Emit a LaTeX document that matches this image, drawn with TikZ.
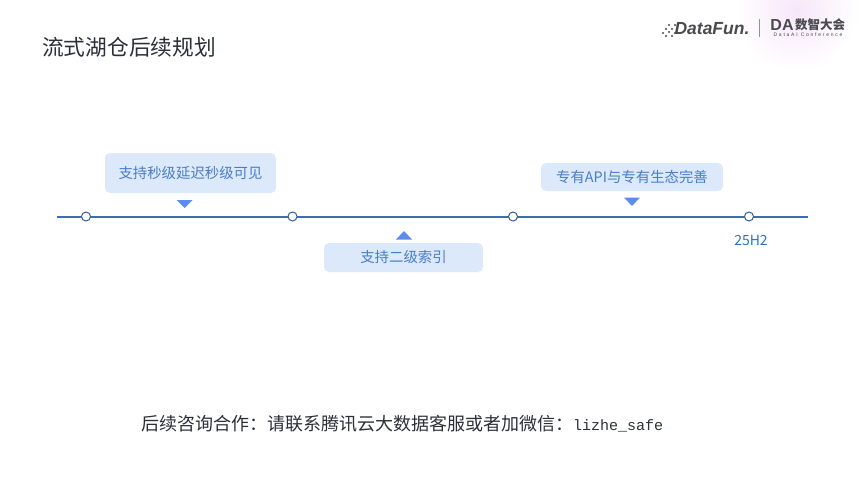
\documentclass[tikz,border=0pt]{standalone}
\usepackage{fontspec}
\usepackage{xcolor}
\setmainfont{Noto Sans CJK SC}
\setmonofont{Liberation Mono}
\setsansfont{Liberation Sans}
\definecolor{linecol}{HTML}{3F6DB0}
\definecolor{boxcol}{HTML}{DCE9FB}
\definecolor{tricol}{HTML}{5B8DEF}
\definecolor{txtcol}{HTML}{4A7DC4}
\definecolor{whencol}{HTML}{2F6FC0}
\definecolor{inkcol}{HTML}{2B2F36}
\definecolor{logocol}{HTML}{4A4A4F}
\definecolor{glowcol}{HTML}{F7E6FA}
\tikzset{
    tagbox/.style={fill=boxcol,rounded corners=5pt,inner sep=0pt,text=txtcol,font=\fontsize{14.4}{16}\selectfont},
    knot/.style={circle,draw=linecol!85!black,fill=white,line width=1pt,minimum size=9pt,inner sep=0pt},
}

\begin{document}
\begin{tikzpicture}[x=1pt,y=-1pt]
        \useasboundingbox (0,0) rectangle (865,487);

        % draw the glow behind the logo
        \begin{scope}
            \clip (700,0) rectangle (865,70);
            \shade[inner color=glowcol,outer color=white] (797,10) circle(62pt);
        \end{scope}

        % draw the logo
        \node[text=logocol,font=\sffamily\bfseries\itshape\fontsize{17.5}{17}\selectfont] (datafun) at (712,29) {DataFun.};
        \foreach \x/\y in {663/33,666/29,666/36,669/25,669/32,672/29,672/36,675/25,675/33} {
                \fill[logocol] (\x,\y) circle(1.2pt);
        }
        \coordinate (sepTop) at (759,19);
        \coordinate (sepBot) at (759,37);
        \draw[logocol!60] (sepTop) -- (sepBot);
        \node[text=logocol,font=\sffamily\bfseries\fontsize{16}{15}\selectfont] (da) at (782,24.5) {DA};
        \node[text=logocol,font=\bfseries\fontsize{12.5}{12}\selectfont] (dahui) at (820,25) {数智大会};
        \node[text=logocol,font=\sffamily\addfontfeature{LetterSpace=35}\fontsize{5}{5}\selectfont] (daconf) at (808,35) {DataAI Conference};

        % draw the title
        \node[anchor=west,inner sep=0pt,text=inkcol,font=\fontsize{21.7}{24}\selectfont] (title) at (42,47) {流式湖仓后续规划};

        % draw the time line and its points
        \coordinate (lineStart) at (57,216.5);
        \coordinate (lineEnd) at (808,216.5);
        \draw[linecol,line width=2pt] (lineStart) -- (lineEnd);
        \foreach \x/\name in {86/a,292.5/b,513/c,749/d} {
                \node[knot] (\name) at (\x,216.5) {};
        }

        % draw the boxes
        \node[tagbox,minimum width=171pt,minimum height=40pt] (first) at (190.5,173) {支持秒级延迟秒级可见};
        \node[tagbox,minimum width=159pt,minimum height=29pt] (second) at (403.5,257.5) {支持二级索引};
        \node[tagbox,minimum width=182pt,minimum height=28pt] (third) at (632,177) {专有API与专有生态完善};

        % draw the little triangles
        \foreach \x/\base/\tip in {184.5/200/208,404/239.5/231,632/197.5/206} {
                \fill[tricol] (\x-8,\base) -- (\x+8,\base) -- (\x,\tip) -- cycle;
        }

        \node[text=whencol,font=\fontsize{14}{16}\selectfont] (when) at (751,240) {25H2};

        % draw the contact line
        \node[anchor=west,inner sep=0pt,text=inkcol,font=\fontsize{18}{20}\selectfont] (contact) at (141,424) {后续咨询合作：请联系腾讯云大数据客服或者加微信：\ttfamily\fontsize{15}{20}\selectfont lizhe\_safe};
    \end{tikzpicture}
\end{document}
